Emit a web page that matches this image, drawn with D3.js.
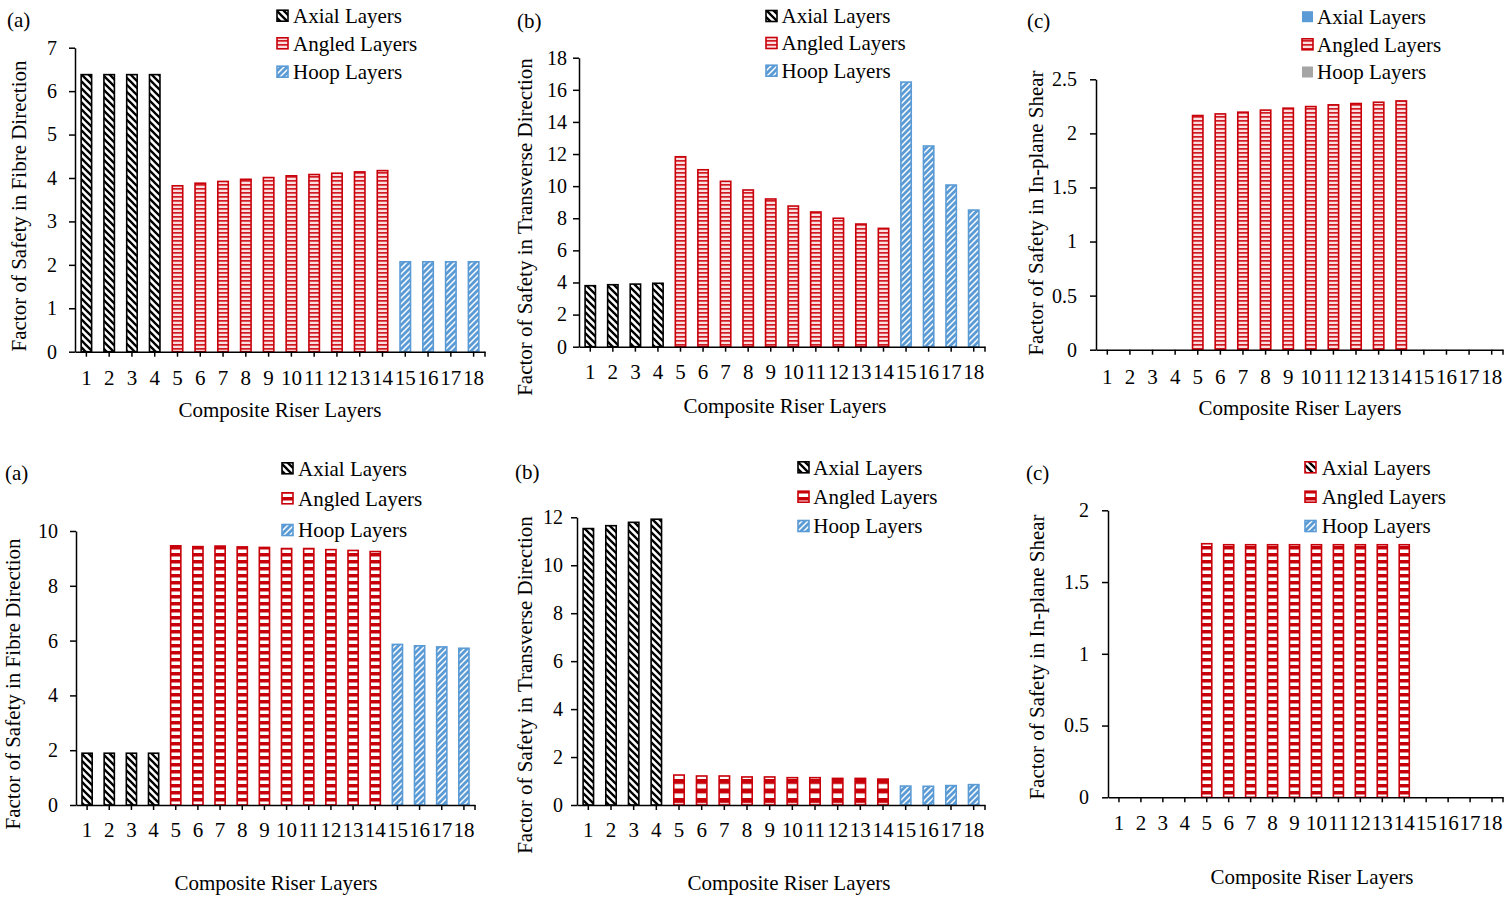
<!DOCTYPE html>
<html>
<head>
<meta charset="utf-8">
<script src="https://cdn.jsdelivr.net/npm/d3@7"></script>
<style>
  body { margin: 0; background: #fff; }
  svg text { font-family: "Liberation Serif", "Times New Roman", serif; fill: #000; }
</style>
</head>
<body>
<svg id="fig" width="1508" height="897"></svg>
<script>
// ---- categories -------------------------------------------------------
const layers = ["1","2","3","4","5","6","7","8","9","10","11","12","13","14","15","16","17","18"];
const layerGroup = ["axial","axial","axial","axial",
  "angled","angled","angled","angled","angled","angled","angled","angled","angled","angled",
  "hoop","hoop","hoop","hoop"];
const legendNames = ["Axial Layers", "Angled Layers", "Hoop Layers"];
const legendGroups = ["axial", "angled", "hoop"];

// ---- factor of safety per layer (top row) ------------------------------
const fosFibreTop = [6.38, 6.38, 6.38, 6.38,
  3.82, 3.88, 3.92, 3.97, 4.01, 4.05, 4.08, 4.11, 4.14, 4.17,
  2.07, 2.07, 2.07, 2.07];
const fosTransverseTop = [3.80, 3.86, 3.90, 3.95,
  11.83, 11.02, 10.30, 9.76, 9.20, 8.76, 8.39, 8.00, 7.64, 7.37,
  16.48, 12.50, 10.07, 8.51];
const fosShearTop = [null, null, null, null,
  2.165, 2.18, 2.196, 2.215, 2.233, 2.248, 2.264, 2.276, 2.288, 2.30,
  null, null, null, null];

// ---- factor of safety per layer (bottom row) ---------------------------
const fosFibreBottom = [1.89, 1.89, 1.89, 1.89,
  9.46, 9.43, 9.45, 9.42, 9.40, 9.36, 9.36, 9.32, 9.29, 9.25,
  5.86, 5.81, 5.77, 5.72];
const fosTransverseBottom = [11.53, 11.65, 11.79, 11.92,
  1.25, 1.21, 1.21, 1.17, 1.17, 1.14, 1.14, 1.11, 1.11, 1.08,
  0.79, 0.78, 0.81, 0.85];
const fosShearBottom = [null, null, null, null,
  1.767, 1.76, 1.76, 1.76, 1.76, 1.76, 1.76, 1.76, 1.76, 1.76,
  null, null, null, null];

// ---- tick labels --------------------------------------------------------
const ticksFibreTop = [0, 1, 2, 3, 4, 5, 6, 7];
const ticksTransverseTop = [0, 2, 4, 6, 8, 10, 12, 14, 16, 18];
const ticksShearTop = [0, 0.5, 1, 1.5, 2, 2.5];
const ticksFibreBottom = [0, 2, 4, 6, 8, 10];
const ticksTransverseBottom = [0, 2, 4, 6, 8, 10, 12];
const ticksShearBottom = [0, 0.5, 1, 1.5, 2];

const titleFibre = "Factor of Safety in Fibre Direction";
const titleTransverse = "Factor of Safety in Transverse Direction";
const titleShear = "Factor of Safety in In-plane Shear";
const titleX = "Composite Riser Layers";

// ---- colours --------------------------------------------------------------
const RED = "#C8000A";
const BLUE = "#5B9BD5";
const BLACK = "#000";

const svg = d3.select("#fig");
const defs = svg.append("defs");

// diagonal hatch: "down" = \ , "up" = /
function hatch(id, color, dir, s, sw) {
  const p = defs.append("pattern").attr("id", id)
    .attr("patternUnits", "userSpaceOnUse").attr("width", s).attr("height", s);
  p.append("rect").attr("width", s).attr("height", s).attr("fill", "#fff");
  const d = dir === "down"
    ? `M${-s/2},${s/2}L${s/2},${3*s/2}M0,0L${s},${s}M${s/2},${-s/2}L${3*s/2},${s/2}`
    : `M${-s/2},${s/2}L${s/2},${-s/2}M0,${s}L${s},0M${s/2},${3*s/2}L${3*s/2},${s/2}`;
  p.append("path").attr("d", d).attr("stroke", color).attr("stroke-width", sw).attr("fill", "none");
}
// horizontal stripes
function stripes(id, h, fgH, bg, fg) {
  const p = defs.append("pattern").attr("id", id)
    .attr("patternUnits", "userSpaceOnUse").attr("width", 10).attr("height", h);
  p.append("rect").attr("width", 10).attr("height", h).attr("fill", bg);
  p.append("rect").attr("width", 10).attr("height", fgH).attr("fill", fg);
}
hatch("hatchAxial", BLACK, "down", 7, 2.3);
hatch("hatchHoop", BLUE, "up", 6, 2.8);
stripes("stripeFine", 4, 1.7, "#FBE0E1", "#D21A22");
stripes("stripeBlock", 7, 3.5, "#fff", RED);
stripes("stripeBlockWide", 9.5, 5, "#fff", RED);

const barStyleTop = {
  axial: { fill: "url(#hatchAxial)", stroke: BLACK },
  angled: { fill: "url(#stripeFine)", stroke: RED },
  hoop: { fill: "url(#hatchHoop)", stroke: BLUE }
};
const barStyleBottom = {
  axial: { fill: "url(#hatchAxial)", stroke: BLACK },
  angled: { fill: "url(#stripeBlock)", stroke: RED },
  hoop: { fill: "url(#hatchHoop)", stroke: BLUE }
};
const barStyleBottomMid = {
  axial: { fill: "url(#hatchAxial)", stroke: BLACK },
  angled: { fill: "url(#stripeBlockWide)", stroke: RED },
  hoop: { fill: "url(#hatchHoop)", stroke: BLUE }
};
const legendStyleShearTop = {
  axial: { fill: BLUE, stroke: "none" },
  angled: { fill: "url(#stripeFine)", stroke: RED },
  hoop: { fill: "#A5A5A5", stroke: "none" }
};
const legendStyleShearBottom = {
  axial: { fill: "url(#hatchAxial)", stroke: RED },
  angled: { fill: "url(#stripeBlock)", stroke: RED },
  hoop: { fill: "url(#hatchHoop)", stroke: BLUE }
};

const panels = [
  { tag: "(a)", tagX: 7, tagY: 20, values: fosFibreTop, ticks: ticksFibreTop, yTitle: titleFibre,
    x0: 75, x1: 485, yBase: 351.7, yTop: 47.7, tickGap: 18, yTitleX: 19, yTitleY: 206,
    xLabelY: 378, xTitleX: 280, xTitleY: 410, style: barStyleTop, legendStyle: barStyleTop,
    legX: 277, legTextX: 293, legY: [15.7, 43.3, 71.7] },
  { tag: "(b)", tagX: 517, tagY: 21, values: fosTransverseTop, ticks: ticksTransverseTop, yTitle: titleTransverse,
    x0: 579, x1: 985, yBase: 346.7, yTop: 57.7, tickGap: 12, yTitleX: 525, yTitleY: 227,
    xLabelY: 372, xTitleX: 785, xTitleY: 406, style: barStyleTop, legendStyle: barStyleTop,
    legX: 766, legTextX: 781.5, legY: [16, 43, 70.7] },
  { tag: "(c)", tagX: 1027, tagY: 21, values: fosShearTop, ticks: ticksShearTop, yTitle: titleShear,
    x0: 1096, x1: 1503, yBase: 349.7, yTop: 79.3, tickGap: 19, yTitleX: 1036, yTitleY: 213,
    xLabelY: 377, xTitleX: 1300, xTitleY: 408, style: barStyleTop, legendStyle: legendStyleShearTop,
    legX: 1302, legTextX: 1317, legY: [16.7, 44.3, 72] },
  { tag: "(a)", tagX: 5, tagY: 473, values: fosFibreBottom, ticks: ticksFibreBottom, yTitle: titleFibre,
    x0: 76, x1: 475, yBase: 805, yTop: 531, tickGap: 18, yTitleX: 13, yTitleY: 684,
    xLabelY: 830, xTitleX: 276, xTitleY: 883, style: barStyleBottom, legendStyle: barStyleBottom,
    legX: 282, legTextX: 298, legY: [468.3, 498.3, 530] },
  { tag: "(b)", tagX: 515, tagY: 472, values: fosTransverseBottom, ticks: ticksTransverseBottom, yTitle: titleTransverse,
    x0: 577, x1: 985, yBase: 805, yTop: 517.3, tickGap: 14, yTitleX: 525, yTitleY: 685,
    xLabelY: 830, xTitleX: 789, xTitleY: 883, style: barStyleBottomMid, legendStyle: barStyleBottom,
    legX: 798, legTextX: 813.3, legY: [467.3, 496.7, 526] },
  { tag: "(c)", tagX: 1026, tagY: 473, values: fosShearBottom, ticks: ticksShearBottom, yTitle: titleShear,
    x0: 1108, x1: 1503, yBase: 797.3, yTop: 510.3, tickGap: 19, yTitleX: 1037, yTitleY: 657,
    xLabelY: 823, xTitleX: 1312, xTitleY: 877, style: barStyleBottom, legendStyle: legendStyleShearBottom,
    legX: 1305, legTextX: 1321.7, legY: [467.3, 496.7, 526] }
];

const TICK = 6;

panels.forEach(p => {
  const g = svg.append("g");
  const x = d3.scaleBand().domain(layers).range([p.x0, p.x1])
    .paddingInner(0.54).paddingOuter(0.27);
  const y = d3.scaleLinear().domain([0, p.ticks[p.ticks.length - 1]]).range([p.yBase, p.yTop]);

  // bars
  const rows = layers.map((l, i) => ({ layer: l, group: layerGroup[i], v: p.values[i] }))
    .filter(d => d.v !== null);
  g.append("g").selectAll("rect").data(rows).join("rect")
    .attr("x", d => x(d.layer))
    .attr("width", x.bandwidth())
    .attr("y", d => y(d.v))
    .attr("height", d => y(0) - y(d.v))
    .attr("fill", d => p.style[d.group].fill)
    .attr("stroke", d => p.style[d.group].stroke)
    .attr("stroke-width", 1.6);

  // y axis
  const yAxis = g.append("g").attr("transform", `translate(${p.x0},0)`)
    .call(d3.axisLeft(y).tickValues(p.ticks).tickFormat(d => String(d))
      .tickSize(TICK).tickSizeOuter(0).tickPadding(p.tickGap - TICK));
  yAxis.select(".domain").attr("stroke", BLACK).attr("stroke-width", 1.5);
  yAxis.selectAll(".tick line").attr("stroke", BLACK).attr("stroke-width", 1.5);
  yAxis.selectAll(".tick text").attr("font-size", 20).attr("font-family", null).attr("fill", BLACK);

  // x axis
  const xAxis = g.append("g").attr("transform", `translate(0,${p.yBase})`)
    .call(d3.axisBottom(x).tickSize(5).tickSizeOuter(0));
  xAxis.select(".domain").attr("stroke", BLACK).attr("stroke-width", 1.5);
  xAxis.selectAll(".tick line").attr("stroke", BLACK).attr("stroke-width", 1.5);
  xAxis.selectAll(".tick text").attr("font-size", 21).attr("font-family", null)
    .attr("fill", BLACK).attr("y", p.xLabelY - p.yBase).attr("dy", "0.35em");
  xAxis.append("line").attr("x1", p.x1).attr("x2", p.x1).attr("y1", 0).attr("y2", 5)
    .attr("stroke", BLACK).attr("stroke-width", 1.5);

  // titles
  g.append("text").attr("transform", `translate(${p.yTitleX},${p.yTitleY}) rotate(-90)`)
    .attr("text-anchor", "middle").attr("dy", "0.35em").attr("font-size", 21).text(p.yTitle);
  g.append("text").attr("x", p.xTitleX).attr("y", p.xTitleY)
    .attr("text-anchor", "middle").attr("dy", "0.35em").attr("font-size", 21).text(titleX);
  g.append("text").attr("x", p.tagX).attr("y", p.tagY)
    .attr("dy", "0.35em").attr("font-size", 21).text(p.tag);

  // legend
  const leg = g.append("g");
  legendGroups.forEach((grp, i) => {
    const st = p.legendStyle[grp];
    leg.append("rect").attr("x", p.legX).attr("y", p.legY[i] - 5.5)
      .attr("width", 11).attr("height", 11)
      .attr("fill", st.fill).attr("stroke", st.stroke).attr("stroke-width", 1.6);
    leg.append("text").attr("x", p.legTextX).attr("y", p.legY[i])
      .attr("dy", "0.35em").attr("font-size", 21).text(legendNames[i]);
  });
});
</script>
</body>
</html>
